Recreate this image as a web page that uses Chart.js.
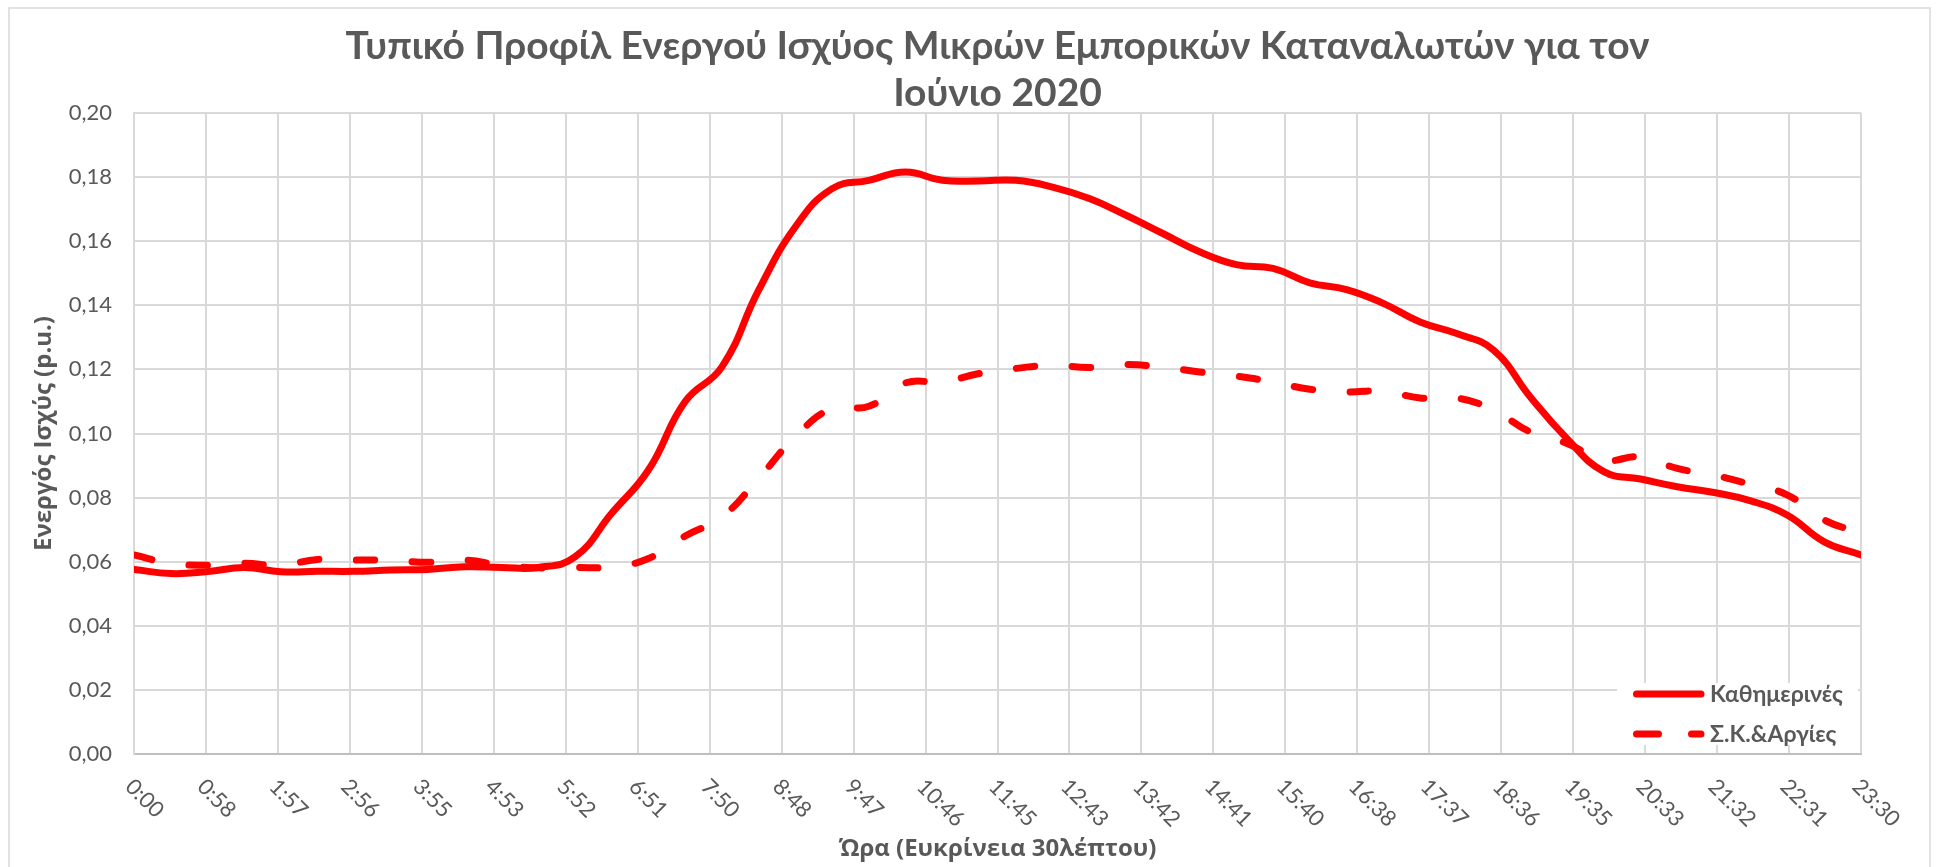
<!DOCTYPE html>
<html>
<head>
<meta charset="utf-8">
<script src="https://cdn.jsdelivr.net/npm/chart.js@4.4.1/dist/chart.umd.min.js"></script>
<style>
html,body{margin:0;padding:0;background:#ffffff;overflow:hidden}
canvas{display:block}
</style>
</head>
<body>
<canvas id="c" width="1941" height="867"></canvas>
<script>
// ---------- data ----------
const timeSlots = ['0:00','0:30','1:00','1:30','2:00','2:30','3:00','3:30','4:00','4:30','5:00','5:30',
  '6:00','6:30','7:00','7:30','8:00','8:30','9:00','9:30','10:00','10:30','11:00','11:30',
  '12:00','12:30','13:00','13:30','14:00','14:30','15:00','15:30','16:00','16:30','17:00','17:30',
  '18:00','18:30','19:00','19:30','20:00','20:30','21:00','21:30','22:00','22:30','23:00','23:30'];

const weekdays = [0.0576,0.0563,0.0569,0.0582,0.0569,0.0570,0.0570,0.0574,0.0576,0.0584,0.0582,0.0582,
  0.0615,0.0751,0.0886,0.1100,0.1208,0.1447,0.1645,0.1764,0.1790,0.1816,0.1790,0.1788,
  0.1790,0.1769,0.1733,0.1681,0.1624,0.1567,0.1527,0.1515,0.1470,0.1449,0.1406,0.1348,
  0.1312,0.1260,0.1114,0.0984,0.0881,0.0858,0.0834,0.0816,0.0790,0.0745,0.0662,0.0621];

const weekendsHolidays = [0.0621,0.0595,0.0589,0.0595,0.0589,0.0607,0.0605,0.0605,0.0598,0.0605,0.0589,0.0581,
  0.0582,0.0584,0.0610,0.0680,0.0740,0.0860,0.0990,0.1078,0.1085,0.1158,0.1161,0.1187,
  0.1203,0.1213,0.1206,0.1215,0.1207,0.1192,0.1179,0.1161,0.1138,0.1130,0.1132,0.1111,
  0.1111,0.1073,0.1005,0.0969,0.0917,0.0927,0.0891,0.0870,0.0841,0.0808,0.0730,0.0690];

const xTickLabels = ['0:00','0:58','1:57','2:56','3:55','4:53','5:52','6:51','7:50','8:48','9:47','10:46',
  '11:45','12:43','13:42','14:41','15:40','16:38','17:37','18:36','19:35','20:33','21:32','22:31','23:30'];

const yTickLabels = ['0,00','0,02','0,04','0,06','0,08','0,10','0,12','0,14','0,16','0,18','0,20'];

const seriesNames = ['Καθημερινές','Σ.Κ.&Αργίες'];
const titleLines = ['Τυπικό Προφίλ Ενεργού Ισχύος Μικρών Εμπορικών Καταναλωτών για τον','Ιούνιο 2020'];
const yAxisTitle = 'Ενεργός Ισχύς (p.u.)';
const xAxisTitle = 'Ώρα (Ευκρίνεια 30λέπτου)';

// ---------- styling ----------
const FONT = 'Lato, "Open Sans", "Noto Sans", sans-serif';
const AXIS_FONT = '"Open Sans", Lato, "Noto Sans", sans-serif';
const GREY = '#595959';
const GRID = '#d9d9d9';
const RED = '#ff0000';

const lastSlot = timeSlots.length - 1;
const tickStep = lastSlot / (xTickLabels.length - 1);

const framePlugin = {
  id: 'frame',
  beforeDraw(chart) {
    const c = chart.ctx;
    c.save();
    c.fillStyle = '#ffffff';
    c.fillRect(0, 0, chart.width, chart.height);
    c.strokeStyle = GRID;
    c.lineWidth = 1.5;
    c.strokeRect(9, 8, chart.width - 20, chart.height + 20);
    c.restore();
  }
};

const titleCenterPlugin = {
  id: 'titleCenter',
  afterLayout(chart) {
    const t = chart.titleBlock;
    if (t) { t.left = chart.chartArea.left; t.right = chart.chartArea.right; }
  }
};

const xLabelPlugin = {
  id: 'xLabels',
  afterDraw(chart) {
    const s = chart.scales.x, c = chart.ctx;
    c.save();
    c.font = '22px ' + FONT;
    c.fillStyle = GREY;
    c.textAlign = 'left';
    c.textBaseline = 'middle';
    s.ticks.forEach((t, k) => {
      const px = s.getPixelForValue(t.value);
      c.save();
      c.translate(px - 5, chart.chartArea.bottom + 29);
      c.rotate(Math.PI / 4);
      c.fillText(xTickLabels[k], 0, 0);
      c.restore();
    });
    c.restore();
  }
};

const legendPlugin = {
  id: 'insideLegend',
  afterDraw(chart) {
    const ca = chart.chartArea, c = chart.ctx;
    const bw = 241, bh = 62;
    const bx = ca.right - 244, by = ca.bottom - 71;
    c.save();
    c.fillStyle = '#ffffff';
    c.fillRect(bx, by, bw, bh);
    chart.data.datasets.forEach((ds, j) => {
      const y = by + 11 + j * 40;
      c.beginPath();
      c.strokeStyle = ds.borderColor;
      c.lineWidth = ds.borderWidth;
      c.lineCap = 'round';
      c.setLineDash(ds.borderDash ? [22, 33] : []);
      c.moveTo(bx + 19.5, y);
      c.lineTo(bx + 84, y);
      c.stroke();
      c.setLineDash([]);
      c.fillStyle = GREY;
      c.font = 'bold 23px ' + FONT;
      c.textAlign = 'left';
      c.textBaseline = 'middle';
      c.fillText(ds.label, bx + 93, y + 1);
    });
    c.restore();
  }
};

new Chart(document.getElementById('c').getContext('2d'), {
  type: 'line',
  data: {
    datasets: [
      {
        label: seriesNames[0],
        data: weekdays.map((v, i) => ({x: i, y: v})),
        borderColor: RED, borderWidth: 7, tension: 0.45,
        pointRadius: 0, fill: false,
        borderCapStyle: 'round', borderJoinStyle: 'round'
      },
      {
        label: seriesNames[1],
        data: weekendsHolidays.map((v, i) => ({x: i, y: v})),
        borderColor: RED, borderWidth: 7, tension: 0.45,
        pointRadius: 0, fill: false,
        borderDash: [18.5, 37.5],
        borderCapStyle: 'round', borderJoinStyle: 'round'
      }
    ]
  },
  options: {
    responsive: false,
    animation: false,
    devicePixelRatio: 1,
    layout: {padding: {left: 0, right: 80, top: 0, bottom: 0}},
    plugins: {
      legend: {display: false},
      tooltip: {enabled: false},
      title: {
        display: true, text: titleLines, color: GREY,
        font: {family: FONT, size: 39, weight: 'bold', lineHeight: 47 / 39},
        padding: {top: 23, bottom: -4}
      }
    },
    scales: {
      x: {
        type: 'linear', min: 0, max: lastSlot,
        afterBuildTicks: (s) => { s.ticks = xTickLabels.map((_, k) => ({value: k * tickStep})); },
        afterFit: (s) => { s.height = 113; s.paddingLeft = 0; s.paddingRight = 0; },
        ticks: {display: false},
        grid: {color: GRID, lineWidth: 2, drawTicks: false},
        border: {color: '#bfbfbf', width: 2},
        title: {
          display: true, text: xAxisTitle, color: GREY,
          font: {family: AXIS_FONT, size: 24, weight: 'bold'},
          padding: {top: 0, bottom: 3}
        }
      },
      y: {
        min: 0, max: 0.2,
        afterFit: (s) => { s.width = 134; s.paddingTop = 0; s.paddingBottom = 0; },
        ticks: {
          stepSize: 0.02, color: GREY, padding: 22,
          font: {family: FONT, size: 22},
          callback: (v, i) => yTickLabels[i]
        },
        grid: {color: GRID, lineWidth: 2, drawTicks: false},
        border: {color: GRID, width: 2},
        title: {
          display: true, text: yAxisTitle, color: GREY,
          font: {family: AXIS_FONT, size: 24, weight: 'bold'},
          padding: {top: 30, bottom: 0}
        }
      }
    }
  },
  plugins: [framePlugin, titleCenterPlugin, xLabelPlugin, legendPlugin]
});
</script>
</body>
</html>
